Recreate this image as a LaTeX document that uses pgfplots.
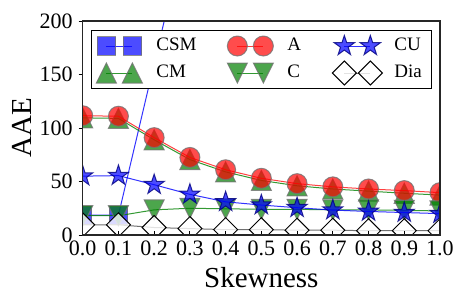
\documentclass[border=0pt]{standalone}
\usepackage{fontspec}
\setmainfont{Liberation Serif}
\usepackage{pgfplots}
\pgfplotsset{compat=1.18}
\usetikzlibrary{plotmarks}
\definecolor{mplgreen}{rgb}{0,0.5,0}

\pgfdeclareplotmark{mtri}{%
  \pgfpathmoveto{\pgfqpoint{0pt}{\pgfplotmarksize}}%
  \pgfpathlineto{\pgfqpoint{-\pgfplotmarksize}{-\pgfplotmarksize}}%
  \pgfpathlineto{\pgfqpoint{\pgfplotmarksize}{-\pgfplotmarksize}}%
  \pgfpathclose
  \pgfusepathqfillstroke}
\pgfdeclareplotmark{mtridown}{%
  \pgfpathmoveto{\pgfqpoint{0pt}{-\pgfplotmarksize}}%
  \pgfpathlineto{\pgfqpoint{-\pgfplotmarksize}{\pgfplotmarksize}}%
  \pgfpathlineto{\pgfqpoint{\pgfplotmarksize}{\pgfplotmarksize}}%
  \pgfpathclose
  \pgfusepathqfillstroke}
\pgfdeclareplotmark{mdiamond}{%
  \pgfpathmoveto{\pgfqpoint{0pt}{\pgfplotmarksize}}%
  \pgfpathlineto{\pgfqpoint{\pgfplotmarksize}{0pt}}%
  \pgfpathlineto{\pgfqpoint{0pt}{-\pgfplotmarksize}}%
  \pgfpathlineto{\pgfqpoint{-\pgfplotmarksize}{0pt}}%
  \pgfpathclose
  \pgfusepathqfillstroke}
\pgfdeclareplotmark{fstar}{%
  \pgfpathmoveto{\pgfpointpolar{90}{\pgfplotmarksize}}%
  \pgfpathlineto{\pgfpointpolar{126}{0.382\pgfplotmarksize}}%
  \pgfpathlineto{\pgfpointpolar{162}{\pgfplotmarksize}}%
  \pgfpathlineto{\pgfpointpolar{198}{0.382\pgfplotmarksize}}%
  \pgfpathlineto{\pgfpointpolar{234}{\pgfplotmarksize}}%
  \pgfpathlineto{\pgfpointpolar{270}{0.382\pgfplotmarksize}}%
  \pgfpathlineto{\pgfpointpolar{306}{\pgfplotmarksize}}%
  \pgfpathlineto{\pgfpointpolar{342}{0.382\pgfplotmarksize}}%
  \pgfpathlineto{\pgfpointpolar{18}{\pgfplotmarksize}}%
  \pgfpathlineto{\pgfpointpolar{54}{0.382\pgfplotmarksize}}%
  \pgfpathclose
  \pgfusepathqfillstroke}

\pgfplotsset{
  csm/.style={color=blue, draw opacity=0.8, line width=0.5pt, mark=square*, mark size=4.6pt,
    mark options={fill=blue, fill opacity=0.7, draw=black!55, draw opacity=0.8, line width=0.5pt}},
  cm/.style={color=mplgreen, draw opacity=0.8, line width=0.5pt, mark=mtri, mark size=5pt,
    mark options={fill=mplgreen, fill opacity=0.7, draw=black!55, draw opacity=0.8, line width=0.5pt}},
  aa/.style={color=red, draw opacity=0.75, line width=0.5pt, mark=*, mark size=5pt,
    mark options={fill=red, fill opacity=0.7, draw=black!55, draw opacity=0.8, line width=0.5pt}},
  cc/.style={color=mplgreen, draw opacity=0.8, line width=0.5pt, mark=mtridown, mark size=5pt,
    mark options={fill=mplgreen, fill opacity=0.7, draw=black!55, draw opacity=0.8, line width=0.5pt}},
  cu/.style={color=blue, draw opacity=0.8, line width=0.5pt, mark=fstar, mark size=5.3pt,
    mark options={fill=blue, fill opacity=0.7, draw=blue!50!black, draw opacity=0.8, line width=0.5pt}},
  dia/.style={color=black!70, draw opacity=0.8, line width=0.5pt, mark=mdiamond, mark size=6pt,
    mark options={fill=white, fill opacity=0.8, draw=black, draw opacity=1, line width=0.5pt}},
}

\begin{document}
\begin{tikzpicture}
\useasboundingbox (-41.35pt,-28pt) rectangle (186.65pt,117.5pt);
\begin{axis}[
  at={(0pt,0pt)}, anchor=south west,
  scale only axis, width=178.65pt, height=107pt,
  xmin=0, xmax=1, ymin=0, ymax=200,
  xtick={0,0.1,0.2,0.3,0.4,0.5,0.6,0.7,0.8,0.9,1},
  ytick={0,50,100,150,200},
  /pgf/number format/assume math mode=true,
  xticklabel style={/pgf/number format/fixed, /pgf/number format/fixed zerofill, /pgf/number format/precision=1},
  tick label style={font=\fontsize{11}{13}\selectfont},
  xticklabel style={anchor=north, inner sep=0pt, yshift=-2.9pt},
  yticklabel style={anchor=east, inner sep=0pt, xshift=-2.85pt},
  tick pos=left,
  xtick align=inside, ytick align=outside,
  major tick length=2pt,
  tick style={black, line width=0.5pt},
  axis line style={black!85, line width=0.6pt},
  axis on top,
  clip marker paths=true,
  xlabel={Skewness}, ylabel={AAE},
  xlabel style={at={(axis description cs:0.5,0)}, anchor=base, yshift=-26pt, inner sep=0pt, font=\fontsize{14.5}{16}\selectfont},
  ylabel style={at={(axis description cs:-0.1712,0.5)}, anchor=center, inner sep=0pt, font=\fontsize{14.5}{16}\selectfont},
  legend columns=3,
  legend cell align=left,
  legend style={at={(axis description cs:0.5,1)}, anchor=north, yshift=-4.5pt,
    draw=black, line width=0.5pt, fill=white,
    inner xsep=2.5pt, inner ysep=2.75pt, column sep=0pt, row sep=3.5pt,
    nodes={inner sep=0pt, font=\fontsize{9.5}{11}\selectfont}},
  legend image code/.code={%
    \draw[overlay] plot coordinates {(5pt,0pt) (18pt,0pt)};
    \path[draw=none, fill=none] (0pt,-5pt) rectangle (30pt,5pt);},
]
\addplot[csm, forget plot] coordinates {(0,18.5) (0.1,18.5) (0.2,160) (0.3,302) (0.4,450) (0.5,600) (0.6,750) (0.7,900) (0.8,1050) (0.9,1200) (1.0,1350)};
\addplot[cm, forget plot] coordinates {(0,109.5) (0.1,109) (0.2,89) (0.3,70.5) (0.4,59) (0.5,51) (0.6,46) (0.7,43) (0.8,41) (0.9,39) (1.0,37.3)};
\addplot[aa, forget plot] coordinates {(0,111.5) (0.1,111) (0.2,91) (0.3,72.5) (0.4,61) (0.5,53) (0.6,48) (0.7,45) (0.8,43) (0.9,41.5) (1.0,39.6)};
\addplot[cc, forget plot] coordinates {(0,18) (0.1,18) (0.2,23.5) (0.3,25) (0.4,24.5) (0.5,24) (0.6,24) (0.7,23.5) (0.8,23.5) (0.9,23) (1.0,22.5)};
\addplot[cu, forget plot] coordinates {(0,55) (0.1,55.5) (0.2,47) (0.3,38) (0.4,31) (0.5,28) (0.6,25.5) (0.7,23.3) (0.8,22) (0.9,21) (1.0,20)};
\addplot[dia, forget plot] coordinates {(0,9.5) (0.1,9.5) (0.2,7) (0.3,6) (0.4,5) (0.5,5) (0.6,4.5) (0.7,4.5) (0.8,4) (0.9,4) (1.0,4)};
\addlegendimage{csm}\addlegendentry{\makebox[35.5pt][l]{CSM}}
\addlegendimage{aa}\addlegendentry{\makebox[23.5pt][l]{A}}
\addlegendimage{cu}\addlegendentry{\makebox[16pt][l]{CU}}
\addlegendimage{cm}\addlegendentry{\makebox[35.5pt][l]{CM}}
\addlegendimage{cc}\addlegendentry{\makebox[23.5pt][l]{C}}
\addlegendimage{dia}\addlegendentry{\makebox[16pt][l]{Dia}}
\end{axis}
\end{tikzpicture}
\end{document}
